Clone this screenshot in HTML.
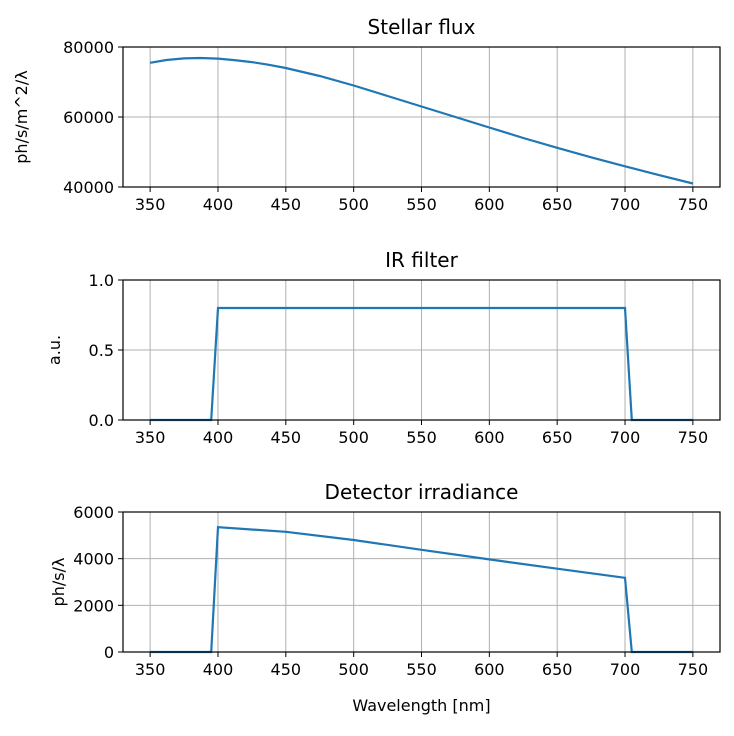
<!DOCTYPE html>
<html><head><meta charset="utf-8"><style>
body{margin:0;background:#fff;font-family:"Liberation Sans","DejaVu Sans",sans-serif}
svg text{font-family:"DejaVu Sans","Liberation Sans",sans-serif}
</style></head><body>
<svg id="c" width="734" height="731" xmlns="http://www.w3.org/2000/svg"></svg>
<script>
const xTicks=[350,400,450,500,550,600,650,700,750];
const fluxX=[350,362,375,387,400,412,425,437,450,475,500,525,550,575,600,625,650,675,700,725,750];
const fluxY=[75500,76300,76750,76850,76700,76250,75700,74950,74000,71700,69000,66000,63000,60000,57000,54000,51200,48500,45900,43400,41000];
const filtX=[350,395,400,700,705,750];
const filtY=[0,0,0.8,0.8,0,0];
const detX=[350,395,400,450,500,550,600,650,700,705,750];
const detY=[0,0,5350,5150,4800,4380,3970,3570,3180,0,0];
const panels=[
 {name:'stellar-flux',title:'Stellar flux',top:47,ymin:40000,ymax:80000,yt:[40000,60000,80000],ylab:'ph/s/m^2/λ',ylx:27,xs:fluxX,ys:fluxY},
 {name:'ir-filter',title:'IR filter',top:280,ymin:0,ymax:1,yt:[0,0.5,1],ylab:'a.u.',ylx:60,xs:filtX,ys:filtY,fmt:v=>v.toFixed(1)},
 {name:'detector-irradiance',title:'Detector irradiance',top:512,ymin:0,ymax:6000,yt:[0,2000,4000,6000],ylab:'ph/s/λ',ylx:64,xs:detX,ys:detY}
];
const svg=document.getElementById('c');const NS='http://www.w3.org/2000/svg';
function mk(t,a,p){const e=document.createElementNS(NS,t);for(const k in a)e.setAttribute(k,a[k]);(p||svg).appendChild(e);return e;}
const L=123,R=720,H=140,X0=330,X1=770;
const sx=v=>L+(v-X0)/(X1-X0)*(R-L);
panels.forEach(p=>{
 const g=mk('g',{});
 
 
 const sy=v=>p.top+H-(v-p.ymin)/(p.ymax-p.ymin)*H;
 xTicks.forEach(t=>{const x=sx(t);
  mk('line',{x1:x,x2:x,y1:p.top,y2:p.top+H,stroke:'#b0b0b0','stroke-width':1},g);
  mk('line',{x1:x,x2:x,y1:p.top+H,y2:p.top+H+5,stroke:'#000'},g);
  const tx=mk('text',{x:x,y:p.top+H+23,'text-anchor':'middle','font-size':16},g);tx.textContent=t;
  
  });
 p.yt.forEach(t=>{const y=sy(t);
  mk('line',{x1:L,x2:R,y1:y,y2:y,stroke:'#b0b0b0','stroke-width':1},g);
  mk('line',{x1:L-5,x2:L,y1:y,y2:y,stroke:'#000'},g);
  const tx=mk('text',{x:L-9,y:y+6,'text-anchor':'end','font-size':16},g);tx.textContent=p.fmt?p.fmt(t):t;
  
  });
 const d=p.xs.map((x,i)=>(i?'L':'M')+sx(x).toFixed(1)+','+sy(p.ys[i]).toFixed(1)).join('');
 const ln=mk('path',{d:d,fill:'none',stroke:'#1f77b4','stroke-width':2.2},g);
 
 
 mk('rect',{x:L,y:p.top,width:R-L,height:H,fill:'none',stroke:'#000','stroke-width':1.2},g);
 const ti=mk('text',{x:(L+R)/2,y:p.top-13,'text-anchor':'middle','font-size':20},g);ti.textContent=p.title;
 
 
 const yl=mk('text',{x:0,y:0,'text-anchor':'middle','font-size':16,transform:`translate(${p.ylx},${p.top+H/2}) rotate(-90)`},g);yl.textContent=p.ylab;
 
 
});
const xl=mk('text',{x:(L+R)/2,y:711,'text-anchor':'middle','font-size':16});xl.textContent='Wavelength [nm]';


</script>
</body></html>
